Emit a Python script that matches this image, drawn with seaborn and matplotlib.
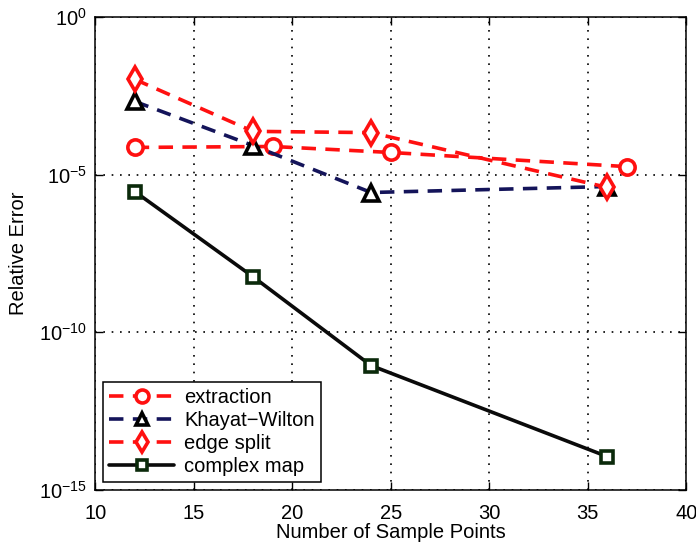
import matplotlib
matplotlib.use("Agg")
import matplotlib.pyplot as plt
import numpy as np
import pandas as pd
import seaborn as sns
from matplotlib.ticker import FixedLocator, NullLocator

# values (log10 of relative error)
extraction_x = [12, 19, 25, 37]
extraction_y = [10 ** -4.14, 10 ** -4.11, 10 ** -4.30, 10 ** -4.75]

khayat_x = [12, 18, 24, 36]
khayat_y = [10 ** -2.68, 10 ** -4.08, 10 ** -5.57, 10 ** -5.38]

edge_x = [12, 18, 24, 36]
edge_y = [10 ** -1.98, 10 ** -3.63, 10 ** -3.67, 10 ** -5.41]

complex_x = [12, 18, 24, 36]
complex_y = [10 ** -5.54, 10 ** -8.24, 10 ** -11.06, 10 ** -13.95]

x_ticks = [10, 15, 20, 25, 30, 35, 40]
y_ticks = [1e-15, 1e-10, 1e-5, 1e0]

sns.set_style("ticks", {"text.color": "black", "axes.labelcolor": "black",
                        "xtick.color": "black", "ytick.color": "black"})
plt.rcParams["font.family"] = ["Liberation Sans", "DejaVu Sans"]
plt.rcParams["mathtext.fontset"] = "custom"
plt.rcParams["mathtext.rm"] = "Liberation Sans"

fig = plt.figure(figsize=(6.96, 5.46), dpi=100)
ax = fig.add_axes([0.137, 0.103, 0.849, 0.866])

series = [
    ("extraction", extraction_x, extraction_y, "#ff1010", "o", (0, (4, 2.6))),
    ("Khayat\u2212Wilton", khayat_x, khayat_y, "#14145a", "^", (0, (4, 2.6))),
    ("edge split", edge_x, edge_y, "#ff1010", "d", (0, (4, 2.6))),
    ("complex map", complex_x, complex_y, "#0a0a0a", "s", "-"),
]

sizes = {"o": 11, "^": 11, "d": 12, "s": 9}
for name, xs, ys, color, marker, ls in series:
    df = pd.DataFrame({"x": xs, "y": ys})
    edge = "#0b2a0b" if marker == "s" else ("#000000" if marker == "^" else color)
    sns.lineplot(
        data=df, x="x", y="y", ax=ax, label=name, color=color,
        linestyle=ls, linewidth=2.6, marker=marker, markersize=sizes[marker],
        markerfacecolor="white", markeredgecolor=edge, markeredgewidth=2.6,
    )

ax.set_yscale("log")
ax.set_xlim(10, 40)
ax.set_ylim(1e-15, 1e0)
ax.xaxis.set_major_locator(FixedLocator(x_ticks))
ax.yaxis.set_major_locator(FixedLocator(y_ticks))
ax.yaxis.set_minor_locator(NullLocator())
ax.set_xticklabels([str(t) for t in x_ticks])
ax.set_yticklabels([r"$10^{%d}$" % int(np.log10(t)) for t in y_ticks])
ax.tick_params(direction="in", length=6, width=1, labelsize=14.5, top=True, right=True,
               colors="black")
ax.tick_params(axis="x", pad=10)
ax.tick_params(axis="y", pad=6)
ax.grid(True, which="major", linestyle=(0, (1, 4)), color="black", linewidth=1.2)
for s in ax.spines.values():
    s.set_linewidth(1.1)
    s.set_color("black")

ax.set_xlabel("Number of Sample Points", fontsize=14.5, labelpad=0, color="black")
ax.set_ylabel("Relative Error", fontsize=14.5, labelpad=8, color="black")

leg = ax.legend(loc="lower left", fontsize=14.5, handlelength=3.2, frameon=True,
                fancybox=False, edgecolor="black", framealpha=1,
                borderaxespad=0.4, labelspacing=0.2, handletextpad=0.5,
                borderpad=0.3, markerscale=0.85)
leg.get_frame().set_linewidth(1.1)
for t in leg.get_texts():
    t.set_color("black")

fig.savefig("out.png", dpi=100)
